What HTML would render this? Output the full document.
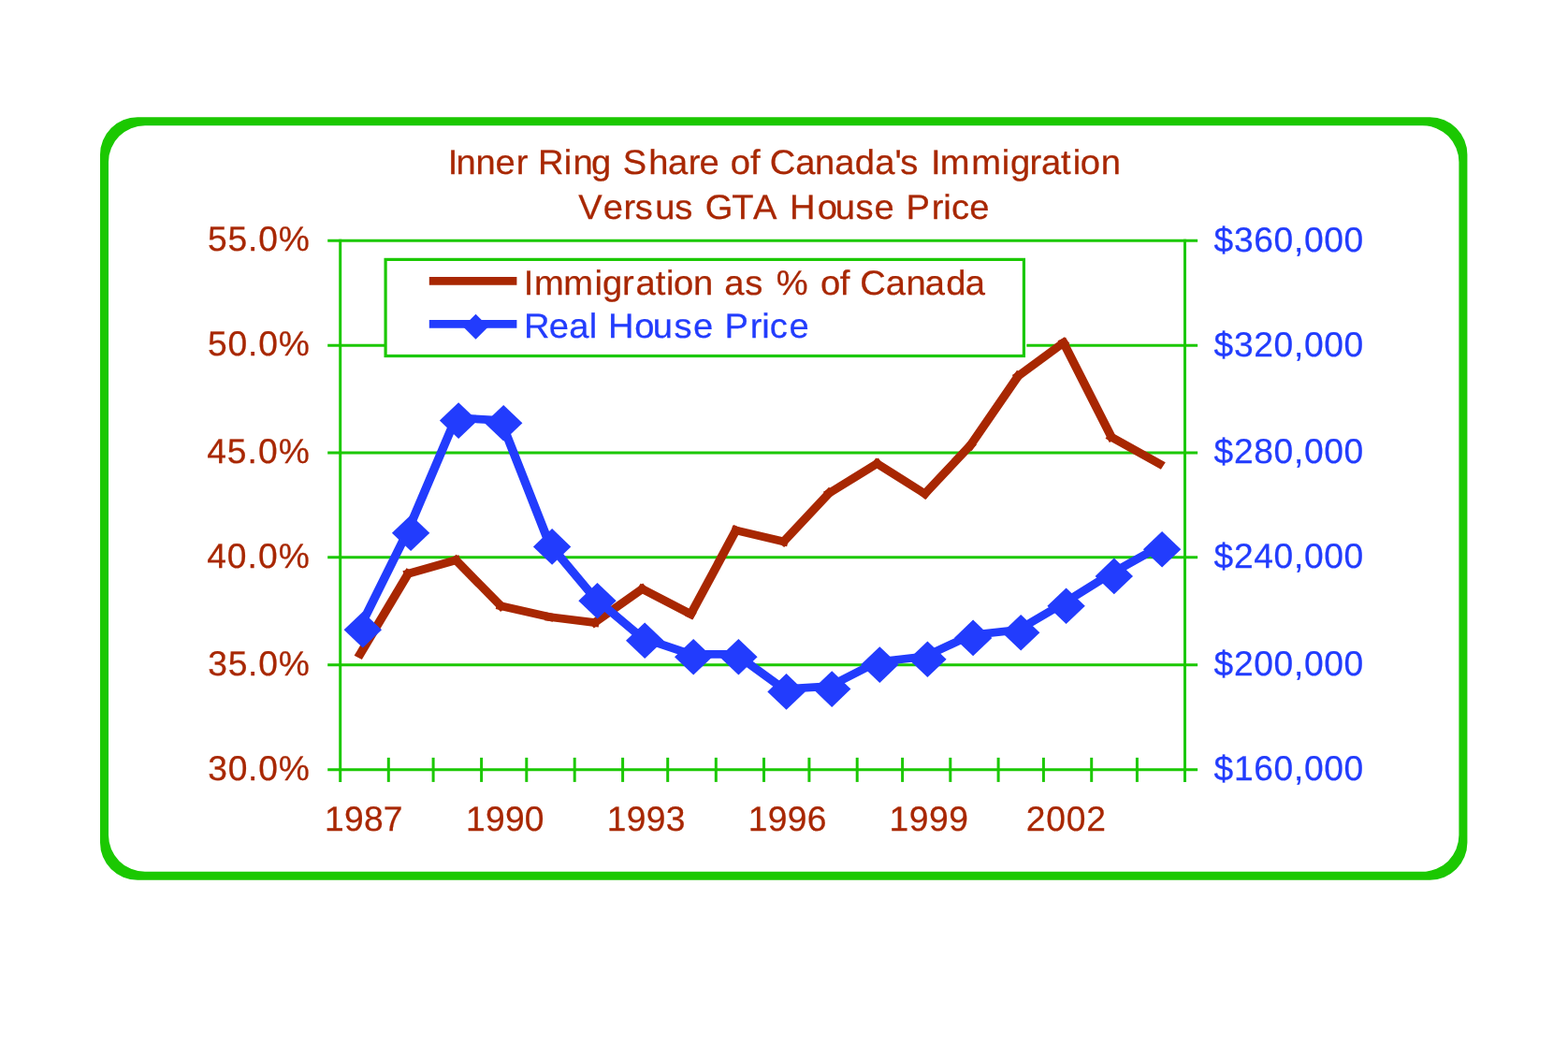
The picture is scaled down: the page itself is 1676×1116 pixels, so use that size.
<!DOCTYPE html>
<html lang="en"><head><meta charset="utf-8">
<title>Inner Ring Share of Canada's Immigration Versus GTA House Price</title>
<style>
html,body{margin:0;padding:0;background:#fff;}
body{width:1676px;height:1116px;overflow:hidden;position:relative;}
svg{position:absolute;left:0;top:0;display:block;}
text{font-family:"Liberation Sans",sans-serif;font-size:37.2px;font-kerning:none;text-rendering:geometricPrecision;}
.r{fill:#a82702;stroke:#a82702}.b{fill:#223cfd;stroke:#223cfd}text{stroke-width:0.25px;stroke-linejoin:round}.t{font-size:37px}
</style></head><body>
<svg width="1676" height="1116" viewBox="0 0 1676 1116" role="img" aria-label="Line chart: Inner Ring Share of Canada's Immigration Versus GTA House Price">
<rect x="0" y="0" width="1676" height="1116" fill="#fff"/>
<path fill="#1bc801" fill-rule="evenodd" d="M147 125.2H1528.4A40 40 0 0 1 1568.4 165.2V900.8A40 40 0 0 1 1528.4 940.8H147A40 40 0 0 1 107 900.8V165.2A40 40 0 0 1 147 125.2Z M155 134.2H1520.4A39 39 0 0 1 1559.4 173.2V892.8A39 39 0 0 1 1520.4 931.8H155A39 39 0 0 1 116 892.8V173.2A39 39 0 0 1 155 134.2Z"/>
<g stroke="#1bc801" stroke-width="3" fill="none" stroke-linecap="butt">
<line x1="350.2" y1="257.3" x2="1280.1" y2="257.3"/>
<line x1="350.2" y1="369.2" x2="1280.1" y2="369.2"/>
<line x1="350.2" y1="483.9" x2="1280.1" y2="483.9"/>
<line x1="350.2" y1="595.8" x2="1280.1" y2="595.8"/>
<line x1="350.2" y1="710.7" x2="1280.1" y2="710.7"/>
<line x1="350.2" y1="822.7" x2="1280.1" y2="822.7"/>
<line x1="363.7" y1="255.8" x2="363.7" y2="835.9"/>
<line x1="1266.5" y1="255.8" x2="1266.5" y2="835.9"/>
<line x1="415.3" y1="809.9" x2="415.3" y2="835.9"/>
<line x1="463.1" y1="809.9" x2="463.1" y2="835.9"/>
<line x1="514.6" y1="809.9" x2="514.6" y2="835.9"/>
<line x1="562.8" y1="809.9" x2="562.8" y2="835.9"/>
<line x1="614.2" y1="809.9" x2="614.2" y2="835.9"/>
<line x1="665.6" y1="809.9" x2="665.6" y2="835.9"/>
<line x1="713.7" y1="809.9" x2="713.7" y2="835.9"/>
<line x1="765.3" y1="809.9" x2="765.3" y2="835.9"/>
<line x1="816.5" y1="809.9" x2="816.5" y2="835.9"/>
<line x1="864.9" y1="809.9" x2="864.9" y2="835.9"/>
<line x1="916.2" y1="809.9" x2="916.2" y2="835.9"/>
<line x1="964.6" y1="809.9" x2="964.6" y2="835.9"/>
<line x1="1015.8" y1="809.9" x2="1015.8" y2="835.9"/>
<line x1="1067.1" y1="809.9" x2="1067.1" y2="835.9"/>
<line x1="1115.4" y1="809.9" x2="1115.4" y2="835.9"/>
<line x1="1166.7" y1="809.9" x2="1166.7" y2="835.9"/>
<line x1="1215.4" y1="809.9" x2="1215.4" y2="835.9"/>
</g>
<rect x="412.1" y="275.9" width="685.2" height="106.1" fill="#fff"/>
<rect x="412.1" y="277.4" width="682.3" height="103.1" fill="#fff" stroke="#1bc801" stroke-width="3.2"/>
<g transform="scale(1.08,1)" stroke="#a82702" stroke-width="8.7" stroke-linecap="square" fill="none">
<line x1="356.48" y1="699.1" x2="403.98" y2="613.2"/>
<line x1="403.98" y1="613.2" x2="451.20" y2="598.8"/>
<line x1="451.20" y1="598.8" x2="495.74" y2="647.8"/>
<line x1="495.74" y1="647.8" x2="543.80" y2="659.5"/>
<line x1="543.80" y1="659.5" x2="588.61" y2="665.5"/>
<line x1="588.61" y1="665.5" x2="635.56" y2="629.6"/>
<line x1="635.56" y1="629.6" x2="683.70" y2="656.5"/>
<line x1="683.70" y1="656.5" x2="728.33" y2="566.9"/>
<line x1="728.33" y1="566.9" x2="775.65" y2="578.9"/>
<line x1="775.65" y1="578.9" x2="820.74" y2="527"/>
<line x1="820.74" y1="527" x2="868.06" y2="495.6"/>
<line x1="868.06" y1="495.6" x2="915.37" y2="527.8"/>
<line x1="915.37" y1="527.8" x2="960.46" y2="476"/>
<line x1="960.46" y1="476" x2="1007.78" y2="401.8"/>
<line x1="1007.78" y1="401.8" x2="1052.59" y2="366.3"/>
<line x1="1052.59" y1="366.3" x2="1100.00" y2="467.2"/>
<line x1="1100.00" y1="467.2" x2="1147.50" y2="495.8"/>
</g>
<polyline transform="scale(1.08,1)" points="356.48,670.3 403.98,566.8 451.20,446.7 495.74,449.4 543.80,581.5 588.61,639.3 635.56,681.9 683.70,699.3 728.33,699.3 775.65,736.5 820.74,733.7 868.06,707.7 915.37,701.9 960.46,679 1007.78,673.4 1052.59,644.8 1100.00,613 1147.50,584.3" fill="none" stroke="#223cfd" stroke-width="8.7" stroke-linejoin="miter"/>
<g fill="#223cfd">
<path d="M367.6 673.2L387.8 653.9L408 673.2L387.8 692.5Z"/>
<path d="M418.9 569.7L439.1 550.4L459.3 569.7L439.1 589Z"/>
<path d="M469.9 449.6L490.1 430.3L510.3 449.6L490.1 468.9Z"/>
<path d="M518 452.3L538.2 433L558.4 452.3L538.2 471.6Z"/>
<path d="M569.9 584.4L590.1 565.1L610.3 584.4L590.1 603.7Z"/>
<path d="M618.3 642.2L638.5 622.9L658.7 642.2L638.5 661.5Z"/>
<path d="M669 684.8L689.2 665.5L709.4 684.8L689.2 704.1Z"/>
<path d="M721 702.2L741.2 682.9L761.4 702.2L741.2 721.5Z"/>
<path d="M769.2 702.2L789.4 682.9L809.6 702.2L789.4 721.5Z"/>
<path d="M820.3 739.4L840.5 720.1L860.7 739.4L840.5 758.7Z"/>
<path d="M869 736.6L889.2 717.3L909.4 736.6L889.2 755.9Z"/>
<path d="M920.1 710.6L940.3 691.3L960.5 710.6L940.3 729.9Z"/>
<path d="M971.2 704.8L991.4 685.5L1011.6 704.8L991.4 724.1Z"/>
<path d="M1019.9 681.9L1040.1 662.6L1060.3 681.9L1040.1 701.2Z"/>
<path d="M1071 676.3L1091.2 657L1111.4 676.3L1091.2 695.6Z"/>
<path d="M1119.4 647.7L1139.6 628.4L1159.8 647.7L1139.6 667Z"/>
<path d="M1170.6 615.9L1190.8 596.6L1211 615.9L1190.8 635.2Z"/>
<path d="M1221.9 587.2L1242.1 567.9L1262.3 587.2L1242.1 606.5Z"/>
</g>
<line x1="458.8" y1="300.3" x2="552.4" y2="300.3" stroke="#a82702" stroke-width="8.7"/>
<line x1="458.8" y1="346.4" x2="552.4" y2="346.4" stroke="#223cfd" stroke-width="8.7"/>
<path d="M495 349.2L508.5 335.7L522 349.2L508.5 362.7Z" fill="#223cfd"/>
<text class="r t" transform="scale(1.03,1)" y="185.7" x="464.7 473.2 493.8 514.2 535.6 547.9 558.3 585.1 594.6 613.5 634.1 646.3 673.1 693.3 714.3 725.7 746.2 758.0 778.6 788.8 798.8 825.5 845.6 866.2 887.1 908.0 928.6 934.3 952.8 966.0 975.6 1008.0 1039.6 1048.6 1068.5 1080.5 1101.0 1113.4 1121.2 1142.6">Inner Ring Share of Canada's Immigration</text>
<text class="r t" transform="scale(1.03,1)" y="234" x="600.3 625.9 647.1 659.0 679.8 700.3 718.8 731.7 759.4 781.5 806.2 819.4 848.3 866.8 887.8 907.2 927.8 940.2 966.8 979.0 987.3 1006.0">Versus GTA House Price</text>
<text class="r t" transform="scale(1.03,1)" y="314.7" x="543.4 554.4 584.8 617.0 625.3 645.7 659.6 680.4 691.2 699.0 719.4 740.0 751.6 773.1 791.6 805.5 838.4 851.4 871.6 881.8 892.5 919.1 940.3 959.9 981.7 1001.7">Immigration as % of Canada</text>
<text class="b t" transform="scale(1.03,1)" y="360.75" x="543.8 569.6 590.5 611.3 619.6 631.2 658.4 677.5 699.5 719.4 740.0 751.9 778.3 790.5 798.8 819.0">Real House Price</text>
<text class="r" x="222.11" y="268.35" letter-spacing="0.809">55.0%</text>
<text class="r" x="222.11" y="380.25" letter-spacing="0.809">50.0%</text>
<text class="r" x="221.15" y="494.95" letter-spacing="1.05">45.0%</text>
<text class="r" x="221.15" y="606.85" letter-spacing="1.05">40.0%</text>
<text class="r" x="222.18" y="721.75" letter-spacing="0.791">35.0%</text>
<text class="r" x="222.18" y="833.75" letter-spacing="0.791">30.0%</text>
<text class="b" x="1297.6" y="268.8" letter-spacing="0.656">$360,000</text>
<text class="b" x="1297.6" y="380.7" letter-spacing="0.656">$320,000</text>
<text class="b" x="1297.6" y="495.4" letter-spacing="0.656">$280,000</text>
<text class="b" x="1297.6" y="607.3" letter-spacing="0.656">$240,000</text>
<text class="b" x="1297.6" y="722.2" letter-spacing="0.656">$200,000</text>
<text class="b" x="1297.6" y="834.2" letter-spacing="0.656">$160,000</text>
<text class="r" x="347.07" y="888.4" letter-spacing="0.25">1987</text>
<text class="r" x="497.97" y="888.4" letter-spacing="0.277">1990</text>
<text class="r" x="648.77" y="888.4" letter-spacing="0.338">1993</text>
<text class="r" x="799.67" y="888.4" letter-spacing="0.371">1996</text>
<text class="r" x="950.57" y="888.4" letter-spacing="0.547">1999</text>
<text class="r" x="1096.73" y="888.4" letter-spacing="0.829">2002</text>
</svg>
</body></html>
